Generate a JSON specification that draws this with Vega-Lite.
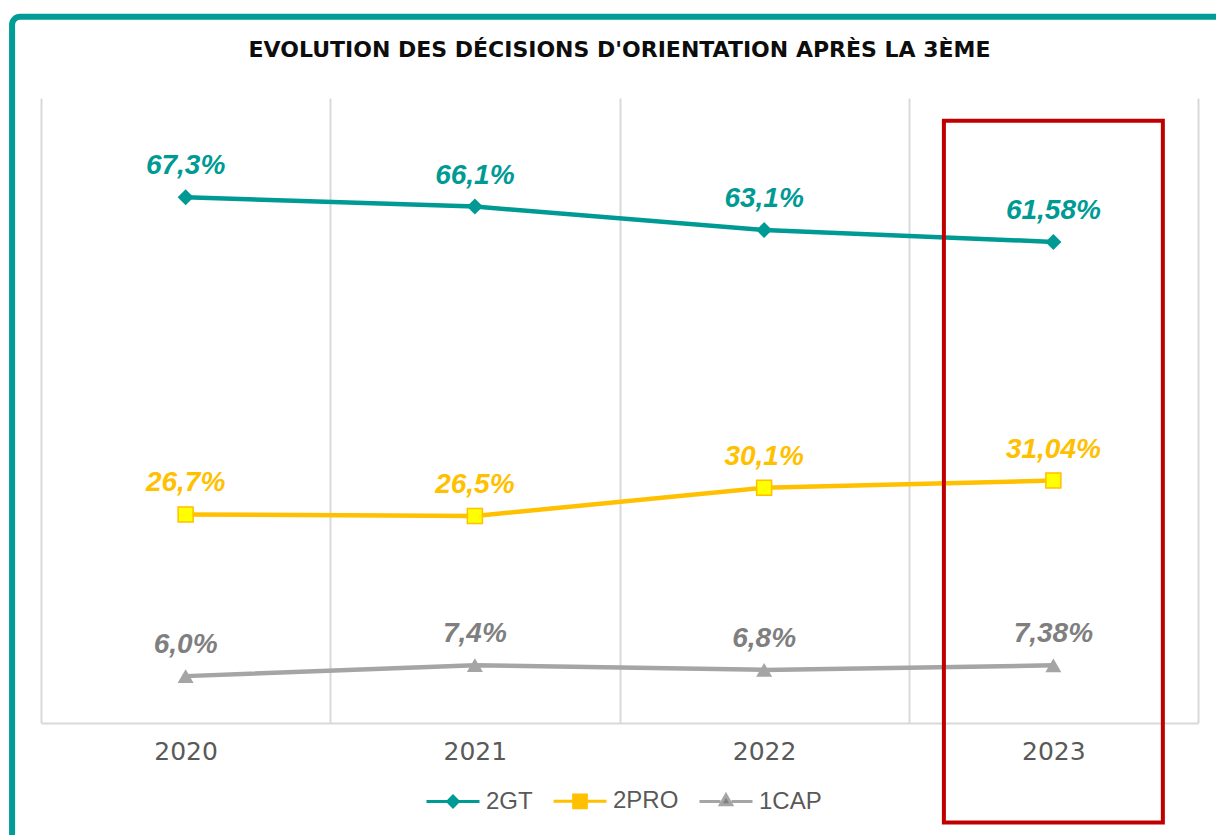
{
  "$schema": "https://vega.github.io/schema/vega-lite/v6.json",
  "width": 1157,
  "height": 625,
  "autosize": {"type": "none"},
  "padding": {"left": 41, "top": 98, "right": 18, "bottom": 112},
  "background": "white",
  "config": {
    "font": "Liberation Sans",
    "view": {"stroke": null}
  },
  "title": {
    "text": "EVOLUTION DES DÉCISIONS D'ORIENTATION APRÈS LA 3ÈME",
    "font": "DejaVu Sans",
    "fontSize": 22,
    "fontWeight": "bold",
    "color": "#0D0D0D",
    "anchor": "middle",
    "offset": -48
  },
  "data": {
    "values": [
      {"year": "2020", "series": "2GT", "value": 67.3, "label": "67,3%"},
      {"year": "2021", "series": "2GT", "value": 66.1, "label": "66,1%"},
      {"year": "2022", "series": "2GT", "value": 63.1, "label": "63,1%"},
      {"year": "2023", "series": "2GT", "value": 61.58, "label": "61,58%"},
      {"year": "2020", "series": "2PRO", "value": 26.7, "label": "26,7%"},
      {"year": "2021", "series": "2PRO", "value": 26.5, "label": "26,5%"},
      {"year": "2022", "series": "2PRO", "value": 30.1, "label": "30,1%"},
      {"year": "2023", "series": "2PRO", "value": 31.04, "label": "31,04%"},
      {"year": "2020", "series": "1CAP", "value": 6.0, "label": "6,0%"},
      {"year": "2021", "series": "1CAP", "value": 7.4, "label": "7,4%"},
      {"year": "2022", "series": "1CAP", "value": 6.8, "label": "6,8%"},
      {"year": "2023", "series": "1CAP", "value": 7.38, "label": "7,38%"}
    ]
  },
  "layer": [
    {
      "data": {"values": [{"year": "2023"}]},
      "mark": {"type": "bar", "fill": "transparent", "stroke": "#009C96", "strokeWidth": 6, "cornerRadius": 8, "width": {"band": 7.2}},
      "encoding": {
        "x": {"field": "year", "type": "nominal", "title": null},
        "y": {"datum": 90.4, "axis": null},
        "y2": {"datum": -25}
      }
    },
    {
      "mark": {"type": "line", "strokeWidth": 4.5},
      "encoding": {
        "x": {
          "field": "year",
          "type": "nominal",
          "scale": {"type": "band", "domain": ["2020", "2021", "2022", "2023"], "paddingInner": 0, "paddingOuter": 0},
          "axis": {
            "title": null,
            "labelAngle": 0,
            "labelAlign": "center",
            "labelBaseline": "top",
            "grid": true,
            "tickBand": "extent",
            "ticks": false,
            "domain": true,
            "domainColor": "#D9D9D9",
            "domainWidth": 2,
            "gridColor": "#D9D9D9",
            "gridWidth": 2,
            "labelFont": "DejaVu Sans",
            "labelFontSize": 25,
            "labelColor": "#595959",
            "labelPadding": 16
          }
        },
        "y": {
          "field": "value",
          "type": "quantitative",
          "scale": {"domain": [0, 80], "nice": false, "zero": true},
          "axis": null
        },
        "color": {
          "field": "series",
          "type": "nominal",
          "scale": {"domain": ["2GT", "2PRO", "1CAP"], "range": ["#009A95", "#FFC000", "#A5A5A5"]},
          "legend": {
            "title": null,
            "orient": "none",
            "legendX": 384,
            "legendY": 675,
            "direction": "horizontal",
            "symbolSize": 2809,
            "symbolStrokeWidth": 3,
            "labelFont": "Liberation Sans",
            "labelFontSize": 24,
            "labelColor": "#595959",
            "labelOffset": 5,
            "columnPadding": 14,
            "encode": {
              "symbols": {
                "update": {
                  "shape": {"signal": "datum.value === '2GT' ? 'M-1,0L-0.2,0M0.2,0L1,0M-0.2,0L0,-0.2L0.2,0L0,0.2Z' : datum.value === '2PRO' ? 'M-1,0L-0.24,0M0.24,0L1,0M-0.24,-0.24L0.24,-0.24L0.24,0.24L-0.24,0.24Z' : 'M-1,0L-0.21,0M0.21,0L1,0M0,-0.25L0.21,0.12L-0.21,0.12Z'"},
                  "fill": {"signal": "datum.value === '2GT' ? '#009A95' : datum.value === '2PRO' ? '#FFFF00' : '#A5A5A5'"},
                  "stroke": {"signal": "datum.value === '2GT' ? '#009A95' : datum.value === '2PRO' ? '#FFC000' : '#A5A5A5'"},
                  "size": {"value": 2809},
                  "strokeWidth": {"value": 3},
                  "opacity": {"value": 1},
                  "fillOpacity": {"value": 1},
                  "strokeOpacity": {"value": 1}
                }
              }
            }
          }
        },
        "order": {"field": "year", "type": "nominal"}
      }
    },
    {
      "transform": [{"filter": "datum.series === '2GT'"}],
      "mark": {"type": "point", "shape": "diamond", "filled": true, "size": 256, "color": "#009A95", "strokeWidth": 1, "opacity": 1},
      "encoding": {
        "x": {"field": "year", "type": "nominal", "title": null},
        "y": {"field": "value", "type": "quantitative", "axis": null}
      }
    },
    {
      "transform": [{"filter": "datum.series === '2PRO'"}],
      "mark": {"type": "point", "shape": "square", "filled": true, "size": 225, "color": "#FFFF00", "stroke": "#FFC000", "strokeWidth": 1.5, "opacity": 1},
      "encoding": {
        "x": {"field": "year", "type": "nominal", "title": null},
        "y": {"field": "value", "type": "quantitative", "axis": null}
      }
    },
    {
      "transform": [{"filter": "datum.series === '1CAP'"}],
      "mark": {"type": "point", "shape": "triangle-up", "filled": true, "size": 256, "color": "#A5A5A5", "strokeWidth": 1, "opacity": 1},
      "encoding": {
        "x": {"field": "year", "type": "nominal", "title": null},
        "y": {"field": "value", "type": "quantitative", "axis": null}
      }
    },
    {
      "mark": {"type": "text", "font": "Liberation Sans", "fontSize": 28, "fontWeight": "bold", "fontStyle": "italic", "baseline": "alphabetic", "align": "center", "dy": -23},
      "encoding": {
        "x": {"field": "year", "type": "nominal", "title": null},
        "y": {"field": "value", "type": "quantitative", "axis": null},
        "text": {"field": "label"},
        "fill": {
          "field": "series",
          "type": "nominal",
          "scale": {"domain": ["2GT", "2PRO", "1CAP"], "range": ["#009A95", "#FFC000", "#7F7F7F"]},
          "legend": null
        }
      }
    },
    {
      "data": {"values": [{"year": "2023"}]},
      "mark": {"type": "bar", "fill": "transparent", "stroke": "#C00000", "strokeWidth": 4, "width": {"band": 0.757}},
      "encoding": {
        "x": {"field": "year", "type": "nominal", "title": null},
        "y": {"datum": 77.1, "axis": null},
        "y2": {"datum": -12.75}
      }
    }
  ]
}
